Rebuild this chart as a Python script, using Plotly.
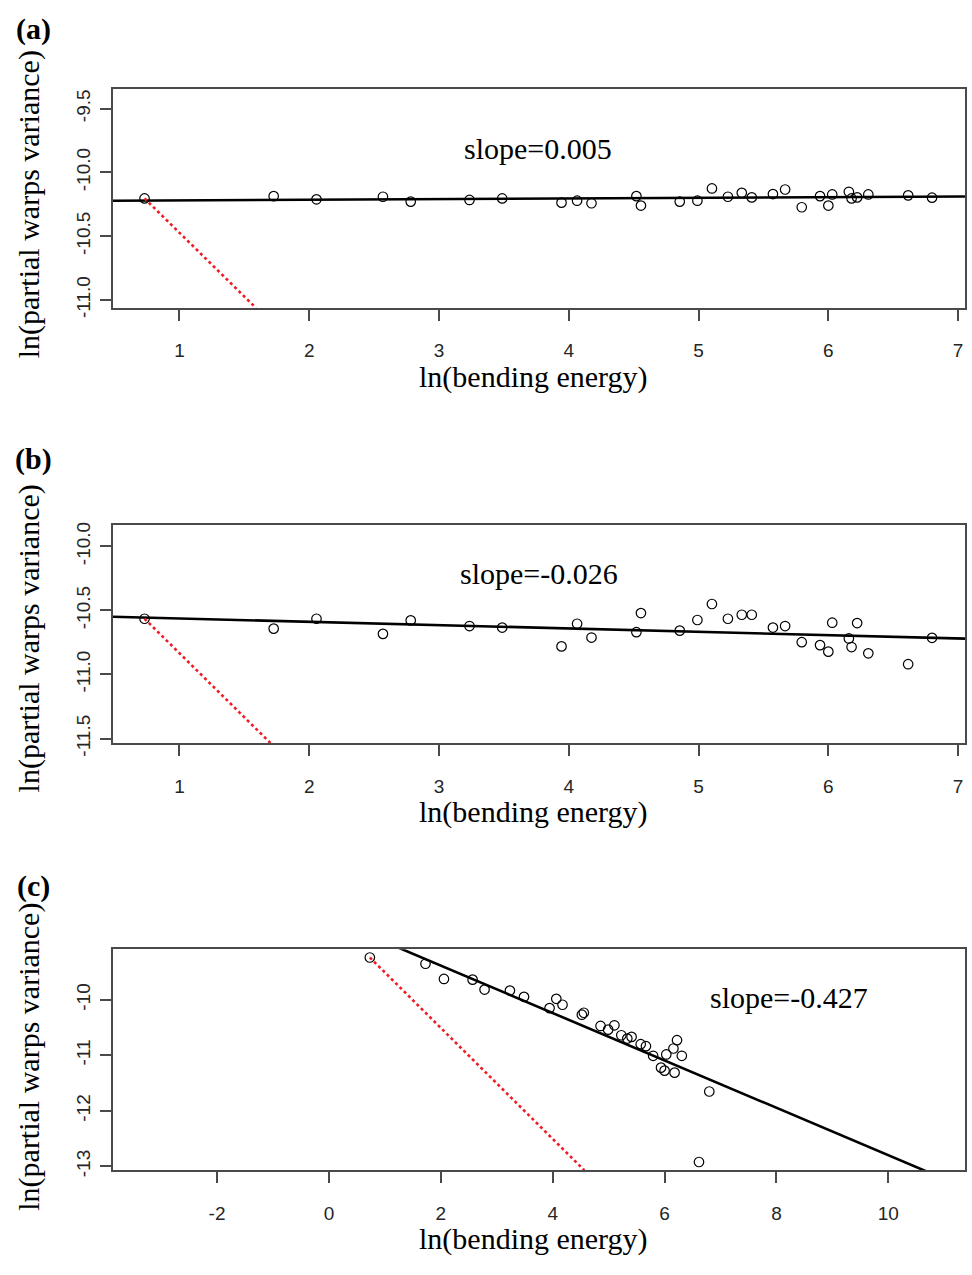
import plotly.graph_objects as go

# ln(bending energy) of the partial warps (same for all three panels)
ln_bending = [0.731, 1.726, 2.056, 2.568, 2.782, 3.235, 3.487, 3.944, 4.064, 4.175,
              4.521, 4.556, 4.855, 4.991, 5.103, 5.226, 5.333, 5.410, 5.573, 5.667,
              5.795, 5.936, 6.000, 6.030, 6.158, 6.179, 6.222, 6.308, 6.615, 6.799]

# ln(partial warps variance), panel (a)
ln_var_a = [-10.204, -10.186, -10.211, -10.191, -10.229, -10.216, -10.204, -10.237, -10.222, -10.242,
            -10.186, -10.260, -10.229, -10.222, -10.126, -10.191, -10.160, -10.196, -10.170, -10.134,
            -10.273, -10.186, -10.260, -10.173, -10.152, -10.204, -10.196, -10.173, -10.180, -10.198]

# ln(partial warps variance), panel (b)
ln_var_b = [-10.565, -10.642, -10.565, -10.683, -10.578, -10.622, -10.634, -10.781, -10.604, -10.712,
            -10.670, -10.521, -10.658, -10.575, -10.450, -10.565, -10.534, -10.534, -10.634, -10.622,
            -10.748, -10.771, -10.822, -10.596, -10.719, -10.786, -10.599, -10.835, -10.920, -10.714]

# ln(partial warps variance), panel (c)
ln_var_c = [-9.237, -9.350, -9.624, -9.636, -9.815, -9.833, -9.946, -10.149, -9.982, -10.089,
            -10.268, -10.233, -10.471, -10.537, -10.459, -10.638, -10.698, -10.668, -10.799, -10.835,
            -11.008, -11.222, -11.276, -10.984, -10.877, -11.312, -10.727, -11.008, -12.922, -11.652]

# fitted regression lines
slopes = [0.005, -0.026, -0.427]
intercepts = [-10.2244, -10.537, -8.53]
slope_labels = ["slope=0.005", "slope=-0.026", "slope=-0.427"]
panel_tags = ["(a)", "(b)", "(c)"]
ref_slope = -1.0   # reference line of slope -1 through the first warp

# axis ranges and ticks
x_ranges = [[0.488, 7.053], [0.488, 7.053], [-3.86, 11.37]]
y_ranges = [[-11.062, -9.345], [-11.535, -9.833], [-13.07, -9.088]]
x_ticks = [[1, 2, 3, 4, 5, 6, 7], [1, 2, 3, 4, 5, 6, 7], [-2, 0, 2, 4, 6, 8, 10]]
y_ticks = [[-9.5, -10.0, -10.5, -11.0], [-10.0, -10.5, -11.0, -11.5], [-10, -11, -12, -13]]
y_ticktext = [["-9.5", "-10.0", "-10.5", "-11.0"], ["-10.0", "-10.5", "-11.0", "-11.5"],
              ["-10", "-11", "-12", "-13"]]

W, H = 972, 1275
box_left, box_right = 113, 965
box_px = [(87, 309), (529, 750), (959, 1183)]          # top, bottom of each plot box
ytitle_center = [204, 644, 1068]
tag_center = [26, 462, 895]
slope_pos = [(538, 147), (539, 578), (789, 1008)]

SERIF = "Liberation Serif, Times New Roman, serif"
SANS = "Liberation Sans, Arial, sans-serif"
AX = "#4a4a4a"

fig = go.Figure()
layout = dict(
    width=W, height=H,
    margin=dict(l=0, r=0, t=0, b=0),
    paper_bgcolor="white", plot_bgcolor="white",
    showlegend=False,
    annotations=[],
)

for i in range(3):
    sfx = "" if i == 0 else str(i + 1)
    xa, ya = "x" + sfx, "y" + sfx
    x0, x1 = x_ranges[i]
    yvals = [ln_var_a, ln_var_b, ln_var_c][i]

    fig.add_trace(go.Scatter(
        x=ln_bending, y=yvals, mode="markers",
        marker=dict(symbol="circle-open", size=9.5, color="black", line=dict(width=1.2, color="black")),
        xaxis=xa, yaxis=ya))

    fig.add_trace(go.Scatter(
        x=[x0, x1], y=[intercepts[i] + slopes[i] * x0, intercepts[i] + slopes[i] * x1],
        mode="lines", line=dict(color="black", width=2.6), xaxis=xa, yaxis=ya))

    xs, ys = ln_bending[0], yvals[0]
    xe = xs + (y_ranges[i][0] - ys) / ref_slope
    fig.add_trace(go.Scatter(
        x=[xs, xe], y=[ys, ys + ref_slope * (xe - xs)],
        mode="lines", line=dict(color="#ee1c25", width=2.6, dash="dot"), xaxis=xa, yaxis=ya))

    top, bot = box_px[i]
    common = dict(showline=True, mirror=True, linecolor=AX, linewidth=1.5,
                  ticks="outside", ticklen=11, tickwidth=1.5, tickcolor=AX,
                  showgrid=False, zeroline=False,
                  tickfont=dict(family=SANS, size=19, color="#262626"))
    layout["xaxis" + sfx] = dict(
        common, domain=[box_left / W, box_right / W], range=x_ranges[i],
        tickmode="array", tickvals=x_ticks[i], ticktext=[str(v) for v in x_ticks[i]],
        anchor=ya, ticklabelstandoff=14)
    layout["yaxis" + sfx] = dict(
        common, domain=[1 - bot / H, 1 - top / H], range=y_ranges[i],
        tickmode="array", tickvals=y_ticks[i], ticktext=y_ticktext[i],
        tickangle=-90, anchor=xa, ticklabelstandoff=3)

    layout["annotations"] += [
        dict(text="ln(bending energy)", xref="paper", yref="paper",
             x=533 / W, y=1 - (bot + 70) / H, xanchor="center", yanchor="middle",
             showarrow=False, font=dict(family=SERIF, size=30, color="black")),
        dict(text="ln(partial warps variance)", xref="paper", yref="paper",
             x=29 / W, y=1 - ytitle_center[i] / H, xanchor="center", yanchor="middle",
             textangle=-90, showarrow=False, font=dict(family=SERIF, size=30, color="black")),
        dict(text="<b>" + panel_tags[i] + "</b>", xref="paper", yref="paper",
             x=33 / W, y=1 - tag_center[i] / H, xanchor="center", yanchor="middle",
             showarrow=False, font=dict(family=SERIF, size=30, color="black")),
        dict(text=slope_labels[i], xref="paper", yref="paper",
             x=slope_pos[i][0] / W, y=1 - slope_pos[i][1] / H, xanchor="center", yanchor="middle",
             showarrow=False, font=dict(family=SERIF, size=30, color="black")),
    ]

fig.update_layout(**layout)
fig.write_html("out.html")
